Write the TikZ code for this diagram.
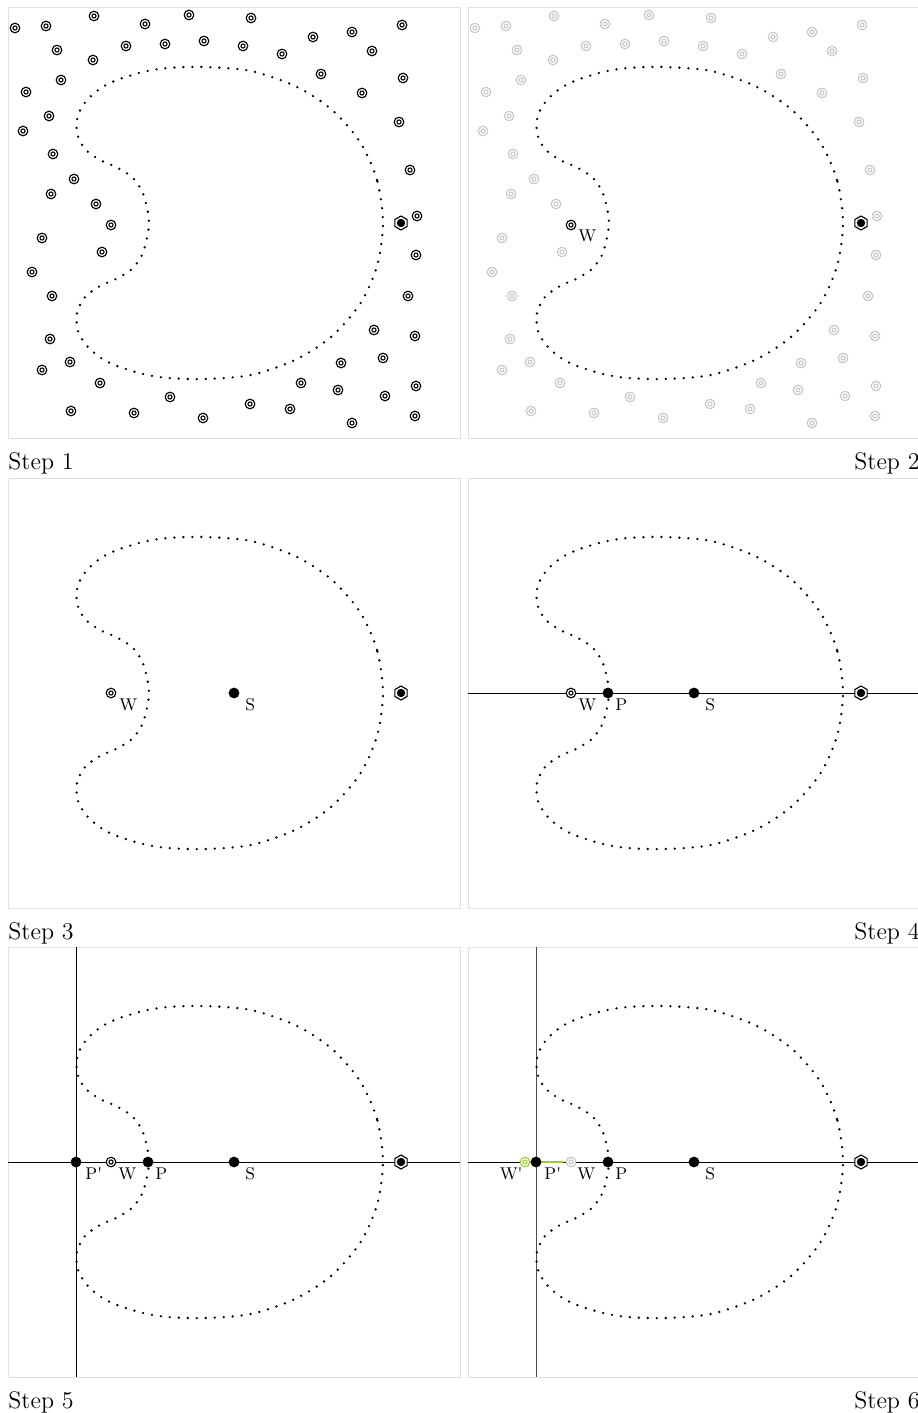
\documentclass[tikz,border=0pt]{standalone}
\usetikzlibrary{shapes.geometric}
\definecolor{wgreen}{RGB}{160,205,45}
\begin{document}
\begin{tikzpicture}[x=0.5pt,y=-0.5pt,
  frame/.style={draw=black!12, line width=0.5pt},
  blobline/.style={line width=1.3pt, line cap=round, dash pattern=on 0pt off 4.5pt},
  guide/.style={line width=0.5pt, draw=black},
  wpt/.style={circle, draw=#1, fill=white, inner sep=0pt, minimum size=4.8pt, line width=0.55pt,
    path picture={\draw[#1, line width=0.55pt] (path picture bounding box.center) circle (1.05pt);}},
  wpt/.default=black,
  gpt/.style={wpt=black!22},
  dot/.style={circle, fill=black, inner sep=0pt, minimum size=5.4pt},
  hexa/.style={regular polygon, regular polygon sides=6, shape border rotate=90, draw, fill=white,
    inner sep=0pt, minimum size=7pt, line width=0.55pt,
    path picture={\fill[black] (path picture bounding box.center) circle (2.1pt);}},
  lab/.style={inner sep=0pt, font=\fontsize{8.5}{10}\selectfont},
  steplab/.style={inner sep=0pt, font=\fontsize{12}{14}\selectfont},
  blobshape/.pic={\draw[blobline] plot[smooth cycle] coordinates {
    (375,215) (369,172) (352,134) (323,101) (287,78) (243,63) (197,59) (160,60) (135,64)
    (109,72) (93,80) (79,92) (70,107) (69,125) (77,141) (92,152) (108,159) (124,169)
    (134,183) (139,200) (141,215) (139,230) (134,247) (124,261) (108,271) (92,278)
    (77,289) (69,305) (70,323) (79,338) (93,350) (109,358) (135,366) (160,370) (197,371)
    (243,367) (287,352) (323,329) (352,296) (369,258)};}
]
\useasboundingbox (0,0) rectangle (917,1413);

% ---------- Step 1 ----------
\begin{scope}[shift={(8,8)}]
  \draw[frame] (0,0) rectangle (452,430);
  \pic at (0,0) {blobshape};
  \foreach \x/\y [count=\i] in {7/20,38/18,86/8,137/16,181/7,243/10,394/17,
    49/42,85/52,118/38,157/36,196/33,235/38,274/46,305/29,344/24,364/43,
    18/84,53/72,313/66,395/70,354/85,41/108,15/123,391/114,45/146,
    66/171,43/186,402/162,88/196,103/217,409/208,34/230,94/244,408/247,24/264,
    44/288,400/288,366/322,42/331,407/328,62/354,34/362,333/355,375/350,
    92/375,293/375,330/382,377/388,408/378,
    63/403,126/405,162/389,195/410,242/396,282/401,344/415,407/408}
    \node[wpt] (a\i) at (\x,\y) {};
  \node[hexa] (hexA) at (393,215) {};
\end{scope}
\node[steplab, anchor=base west] (s1) at (8,469) {Step 1};

% ---------- Step 2 ----------
\begin{scope}[shift={(468,8)}]
  \draw[frame] (0,0) rectangle (452,430);
  \pic at (0,0) {blobshape};
  \foreach \x/\y [count=\i] in {7/20,38/18,86/8,137/16,181/7,243/10,394/17,
    49/42,85/52,118/38,157/36,196/33,235/38,274/46,305/29,344/24,364/43,
    18/84,53/72,313/66,395/70,354/85,41/108,15/123,391/114,45/146,
    66/171,43/186,402/162,88/196,409/208,34/230,94/244,408/247,24/264,
    44/288,400/288,366/322,42/331,407/328,62/354,34/362,333/355,375/350,
    92/375,293/375,330/382,377/388,408/378,
    63/403,126/405,162/389,195/410,242/396,282/401,344/415,407/408}
    \node[gpt] (b\i) at (\x,\y) {};
  \node[wpt] (wB) at (103,217) {};
  \node[lab, anchor=north west] (lwB) at (110,221) {W};
  \node[hexa] (hexB) at (393,215) {};
\end{scope}
\node[steplab, anchor=base east] (s2) at (920,469) {Step 2};

% ---------- Step 3 ----------
\begin{scope}[shift={(8,478)}]
  \draw[frame] (0,0) rectangle (452,430);
  \pic at (0,0) {blobshape};
  \node[wpt] (wC) at (103,215) {};
  \node[dot] (sC) at (226,215) {};
  \node[hexa] (hexC) at (393,215) {};
  \node[lab, anchor=north west] (lwC) at (111,220) {W};
  \node[lab, anchor=north west] (lsC) at (237,220) {S};
\end{scope}
\node[steplab, anchor=base west] (s3) at (8,939) {Step 3};

% ---------- Step 4 ----------
\begin{scope}[shift={(468,478)}]
  \draw[frame] (0,0) rectangle (452,430);
  \coordinate (hlD0) at (0,215);
  \coordinate (hlD1) at (452,215);
  \draw[guide] (hlD0) -- (hlD1);
  \pic at (0,0) {blobshape};
  \node[wpt] (wD) at (103,215) {};
  \node[dot] (pD) at (140,215) {};
  \node[dot] (sD) at (226,215) {};
  \node[hexa] (hexD) at (393,215) {};
  \node[lab, anchor=north west] (lwD) at (110,220) {W};
  \node[lab, anchor=north west] (lpD) at (147,220) {P};
  \node[lab, anchor=north west] (lsD) at (237,220) {S};
\end{scope}
\node[steplab, anchor=base east] (s4) at (920,939) {Step 4};

% ---------- Step 5 ----------
\begin{scope}[shift={(8,947)}]
  \draw[frame] (0,0) rectangle (452,430);
  \coordinate (hlE0) at (0,215);
  \coordinate (hlE1) at (452,215);
  \coordinate (vlE0) at (68,0);
  \coordinate (vlE1) at (68,430);
  \draw[guide] (hlE0) -- (hlE1);
  \draw[guide] (vlE0) -- (vlE1);
  \pic at (0,0) {blobshape};
  \node[dot] (ppE) at (68,215) {};
  \node[wpt] (wE) at (103,215) {};
  \node[dot] (pE) at (140,215) {};
  \node[dot] (sE) at (226,215) {};
  \node[hexa] (hexE) at (393,215) {};
  \node[lab, anchor=north west] (lppE) at (77,220) {P\textquotesingle};
  \node[lab, anchor=north west] (lwE) at (110,220) {W};
  \node[lab, anchor=north west] (lpE) at (147,220) {P};
  \node[lab, anchor=north west] (lsE) at (237,220) {S};
\end{scope}
\node[steplab, anchor=base west] (s5) at (8,1408) {Step 5};

% ---------- Step 6 ----------
\begin{scope}[shift={(468,947)}]
  \draw[frame] (0,0) rectangle (452,430);
  \coordinate (hlF0) at (0,215);
  \coordinate (hlF1) at (452,215);
  \coordinate (vlF0) at (68,0);
  \coordinate (vlF1) at (68,430);
  \draw[guide] (hlF0) -- (hlF1);
  \draw[guide, draw=black!70] (vlF0) -- (vlF1);
  \pic at (0,0) {blobshape};
  \node[gpt] (wF) at (103,215) {};
  \node[wpt=wgreen] (wpF) at (57,215) {};
  \coordinate (gF) at (95,215);
  \draw[wgreen, line width=1pt, line cap=round] (wpF.east) -- (gF);
  \node[dot] (ppF) at (68,215) {};
  \node[dot] (pF) at (140,215) {};
  \node[dot] (sF) at (226,215) {};
  \node[hexa] (hexF) at (393,215) {};
  \node[lab, anchor=north east] (lwpF) at (55,220) {W\textquotesingle};
  \node[lab, anchor=north west] (lppF) at (76,220) {P\textquotesingle};
  \node[lab, anchor=north west] (lwF) at (109,220) {W};
  \node[lab, anchor=north west] (lpF) at (147,220) {P};
  \node[lab, anchor=north west] (lsF) at (237,220) {S};
\end{scope}
\node[steplab, anchor=base east] (s6) at (920,1408) {Step 6};
\end{tikzpicture}
\end{document}
